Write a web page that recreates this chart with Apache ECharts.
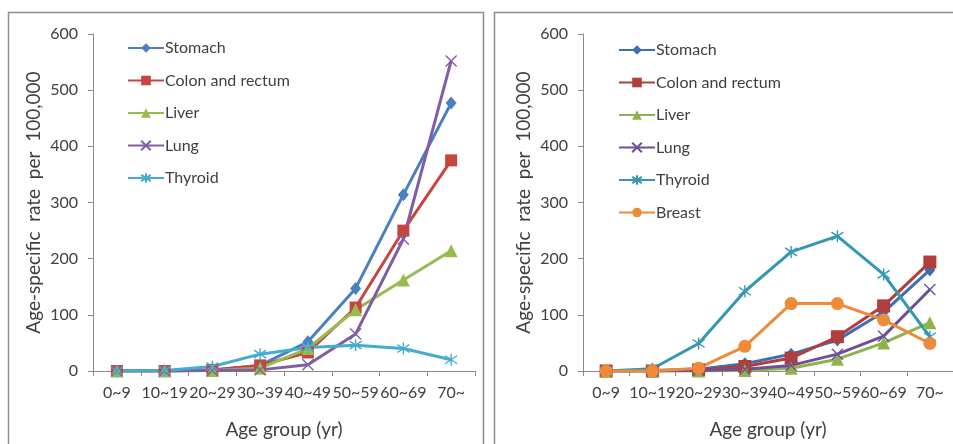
<!DOCTYPE html>
<html><head><meta charset="utf-8">
<script src="https://cdn.jsdelivr.net/npm/echarts@6/dist/echarts.min.js"></script>
<style>html,body{margin:0;padding:0;background:#fff}#c{width:953px;height:444px}</style>
</head><body><div id="c"></div>
<script>
const categories = ['0~9','10~19','20~29','30~39','40~49','50~59','60~69','70~'];
const yTicks = [0,100,200,300,400,500,600];

// Left panel
const leftStomach = [0, 0, 2, 10, 52, 147, 314, 477];
const leftColon   = [0, 0, 2, 10, 33, 113, 250, 375];
const leftLiver   = [0, 0, 1, 5, 40, 109, 162, 214];
const leftLung    = [0, 0, 1, 2, 11, 66, 235, 552];
const leftThyroid = [0, 1, 8, 30, 42, 46, 40, 20];

// Right panel
const rightStomach = [0, 1, 3, 13, 30, 55, 105, 180];
const rightColon   = [0, 0, 2, 8, 23, 61, 116, 194];
const rightLiver   = [0, 0, 0, 1, 5, 21, 50, 86];
const rightLung    = [0, 0, 1, 3, 10, 30, 62, 145];
const rightThyroid = [0, 4, 49, 142, 212, 240, 172, 61];
const rightBreast  = [0, 0, 5, 44, 120, 120, 91, 49];

const FONT = 'Lato, "Open Sans", sans-serif';
const TXT = '#404040';
const AX = '#8a8a8a';
const CROSS = 'path://M0,0L10,10M10,0L0,10';
const STAR = 'path://M0,1L10,9M10,1L0,9M5,-1L5,11';

function mk(name, data, color, symbol, size, gi, stroke) {
  return {
    name: name, type: 'line', data: data,
    xAxisIndex: gi, yAxisIndex: gi,
    symbol: symbol, symbolSize: size,
    lineStyle: {color: color, width: 3},
    itemStyle: stroke ? {color: 'rgba(0,0,0,0)', borderColor: color, borderWidth: 1.4} : {color: color},
    emphasis: {disabled: true},
    animation: false, z: 3
  };
}

function axesFor(gi) {
  return {
    x: {
      type: 'category', gridIndex: gi, data: categories, boundaryGap: true,
      axisLine: {lineStyle: {color: AX, width: 1}},
      axisTick: {show: true, length: 5, lineStyle: {color: AX}, alignWithLabel: false},
      axisLabel: {color: TXT, fontSize: 16, fontFamily: FONT, margin: 14, interval: 0},
      name: 'Age group (yr)', nameLocation: 'middle', nameGap: 49,
      nameTextStyle: {color: TXT, fontSize: 19, fontFamily: FONT}
    },
    y: {
      type: 'value', gridIndex: gi, min: 0, max: 600, interval: 100,
      axisLine: {show: true, lineStyle: {color: AX, width: 1}},
      axisTick: {show: true, length: 5, lineStyle: {color: AX}},
      splitLine: {show: false},
      axisLabel: {color: TXT, fontSize: 16, fontFamily: FONT, margin: 15,
        formatter: v => yTicks.includes(v) ? String(v) : ''},
      name: 'Age-specific  rate  per  100,000', nameLocation: 'middle', nameGap: 50,
      nameTextStyle: {color: TXT, fontSize: 19, fontFamily: FONT}
    }
  };
}
const a0 = axesFor(0), a1 = axesFor(1);

const lc = ['#4a7fc0', '#c4463f', '#96bb4f', '#7f5ea6', '#43add0'];
const rc = ['#3f6fb0', '#b03e3b', '#8db44a', '#6f4f97', '#3398b0', '#ee8a38'];

const series = [
  mk('Stomach', leftStomach, lc[0], 'diamond', [11, 13], 0),
  mk('Colon and rectum', leftColon, lc[1], 'rect', 12, 0),
  mk('Liver', leftLiver, lc[2], 'triangle', 13, 0),
  mk('Lung', leftLung, lc[3], CROSS, 11, 0, true),
  mk('Thyroid', leftThyroid, lc[4], STAR, 12, 0, true),
  mk('Stomach ', rightStomach, rc[0], 'diamond', [11, 13], 1),
  mk('Colon and rectum ', rightColon, rc[1], 'rect', 13, 1),
  mk('Liver ', rightLiver, rc[2], 'triangle', 13, 1),
  mk('Lung ', rightLung, rc[3], CROSS, 11, 1, true),
  mk('Thyroid ', rightThyroid, rc[4], STAR, 12, 1, true),
  mk('Breast ', rightBreast, rc[5], 'circle', 13, 1)
];

const legendBase = {
  orient: 'vertical', itemWidth: 36, itemHeight: 12, itemGap: 16.5,
  textStyle: {color: TXT, fontSize: 16, fontFamily: FONT, padding: [0,0,0,-4]},
  formatter: n => n.trim(), selectedMode: false, padding: 0
};

const chart = echarts.init(document.getElementById('c'), null, {renderer: 'canvas'});
chart.setOption({
  backgroundColor: '#fff',
  animation: false,
  graphic: [
    {type: 'rect', shape: {x: 8.5, y: 12.5, width: 475, height: 460}, style: {fill: 'none', stroke: '#8c8c8c', lineWidth: 1.5}, z: 0},
    {type: 'rect', shape: {x: 494.5, y: 12.5, width: 480, height: 460}, style: {fill: 'none', stroke: '#8c8c8c', lineWidth: 1.5}, z: 0}
  ],
  grid: [
    {left: 93, top: 34, width: 382, height: 337},
    {left: 583, top: 34, width: 379, height: 338}
  ],
  xAxis: [a0.x, a1.x],
  yAxis: [a0.y, a1.y],
  legend: [
    Object.assign({}, legendBase, {left: 127, top: 40, data: ['Stomach','Colon and rectum','Liver','Lung','Thyroid']}),
    Object.assign({}, legendBase, {left: 618, top: 42, data: ['Stomach ','Colon and rectum ','Liver ','Lung ','Thyroid ','Breast ']})
  ],
  series: series
});
</script></body></html>
